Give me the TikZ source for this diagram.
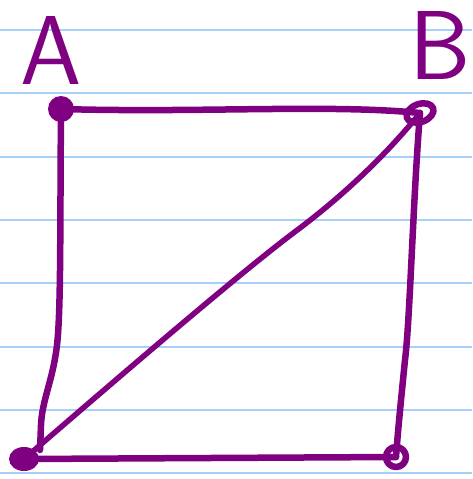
\documentclass[tikz,border=0pt]{standalone}
\usepackage{fontspec}
\usetikzlibrary{calc}
\definecolor{ink}{HTML}{7F0080}
\definecolor{rule}{HTML}{A6D0FA}
\tikzset{
  pen/.style={draw=ink,line width=6.5pt,line cap=round,line join=round},
  ruling/.style={draw=rule,line width=2pt},
  letter/.style={text=ink,font=\sffamily\fontsize{98}{98}\selectfont,inner sep=0pt}
}
\begin{document}
\begin{tikzpicture}[x=1pt,y=-1pt]
  \useasboundingbox (0,0) rectangle (472,479);
  % ruled paper
  \foreach \y in {29.5,93,156.5,220,283,346.5,410,473.3}
    \draw[ruling] (0,\y) -- (472,\y);
  % corners
  \coordinate (A) at (61,109);
  \coordinate (B) at (420,113);
  \coordinate (C) at (24,459);
  \coordinate (D) at (396,457);
  \coordinate (Cl) at (40,450);
  % labels
  \node[letter,anchor=base] (lblA) at (51,84) {A};
  \node[letter,anchor=base] (lblB) at (440,79) {B};
  % edges
  \draw[pen] (A) .. controls (200,113) and (330,104) .. (B);
  \draw[pen] (A) .. controls (60,230) and (61,310) .. (57,345)
                 .. controls (53,380) and (42,400) .. (41,425) -- (Cl);
  \draw[pen] (B) .. controls (413,200) and (410,320) .. (405,360)
                 .. controls (400,410) and (398,430) .. (D);
  \draw[pen] (C) -- (D);
  \draw[pen,line width=5.5pt] (C) .. controls (150,350) and (250,265) .. (300,228)
                 .. controls (350,190) and (390,150) .. (B);
  % dots
  \fill[ink] (A) circle (13);
  \fill[ink] (C) ellipse (15 and 12);
  \draw[pen,rotate around={20:(B)}] (B) ellipse (14 and 9);
  \draw[pen] (D) circle (10);
\end{tikzpicture}
\end{document}
